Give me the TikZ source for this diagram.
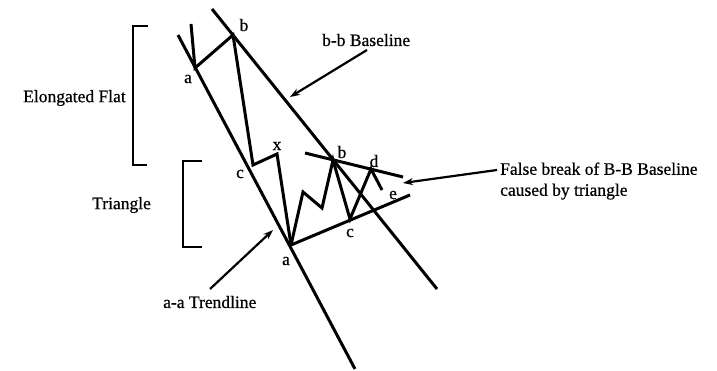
\documentclass[tikz,border=0pt]{standalone}
\usepackage{fontspec}
\setmainfont{Liberation Serif}
\newfontfamily\scanfont{Liberation Serif}[FakeBold=0.6]
\usetikzlibrary{arrows.meta}

\begin{document}
\begin{tikzpicture}[
    x=1pt, y=-1pt,
    line/.style={line width=3pt, line join=miter},
    brace/.style={line width=2.4pt},
    pointer/.style={-{Stealth[length=10pt,width=7pt]}, line width=2.2pt},
    lbl/.style={font=\scanfont\fontsize{17.5}{19}\selectfont, inner sep=0pt},
    txt/.style={font=\scanfont\fontsize{17.5}{21}\selectfont, inner sep=0pt, align=left, anchor=west}
]
\useasboundingbox (0,0) rectangle (717,371);

% channel lines
\coordinate (aatop) at (178,35);
\coordinate (aabot) at (355,369);
\coordinate (bbtop) at (212,9);
\coordinate (bbbot) at (437,289);
\draw[line] (aatop) -- (aabot);
\draw[line] (bbtop) -- (bbbot);

% elongated flat
\coordinate (spur) at (191,24);
\coordinate (a1) at (195,68);
\coordinate (b1) at (233,35);
\coordinate (c1) at (253,165);
\coordinate (x1) at (277,154);
\coordinate (a2) at (291,245);
\draw[line] (spur) -- (a1) -- (b1) -- (c1) -- (x1) -- (a2);

% triangle
\coordinate (p1) at (303,192);
\coordinate (p2) at (322,208);
\coordinate (b2) at (333,160);
\coordinate (c2) at (350,219);
\coordinate (d2) at (371,169);
\coordinate (e2) at (382,190);
\coordinate (ul) at (305,153);
\coordinate (ur) at (403,177);
\coordinate (lr) at (410,195);
\draw[line] (a2) -- (p1) -- (p2) -- (b2) -- (c2) -- (d2) -- (e2);
\draw[line] (ul) -- (ur);
\draw[line] (a2) -- (lr);

% point labels
\node[lbl] (lba) at (188,79) {a};
\node[lbl] (lbb) at (244,25) {b};
\node[lbl] (lbc) at (240,174) {c};
\node[lbl] (lbx) at (277,146) {x};
\node[lbl] (lbb2) at (342,152) {b};
\node[lbl] (lbd) at (374,161) {d};
\node[lbl] (lbe) at (393,195) {e};
\node[lbl] (lbc2) at (350,233) {c};
\node[lbl] (lba2) at (286,261) {a};

% brackets
\draw[brace] (148,26) -- (133,26) -- (133,165) -- (147,165);
\draw[brace] (202,161) -- (183,161) -- (183,247) -- (202,247);
\node[txt] (flat) at (23,98) {Elongated Flat};
\node[txt] (tri) at (92,205) {Triangle};

% callouts
\node[txt] (bbtext) at (322,40) {b-b Baseline};
\node[txt] (falsetext) at (500,181) {False break of B-B Baseline\\caused by triangle};
\node[txt] (aatext) at (163,302) {a-a Trendline};
\coordinate (bbfrom) at (367,50);
\coordinate (bbto) at (290,97);
\coordinate (fbfrom) at (497,170);
\coordinate (fbto) at (403,183);
\coordinate (aafrom) at (210,289);
\coordinate (aato) at (273,230);
\draw[pointer] (bbfrom) -- (bbto);
\draw[pointer] (fbfrom) -- (fbto);
\draw[pointer] (aafrom) -- (aato);
\end{tikzpicture}
\end{document}
